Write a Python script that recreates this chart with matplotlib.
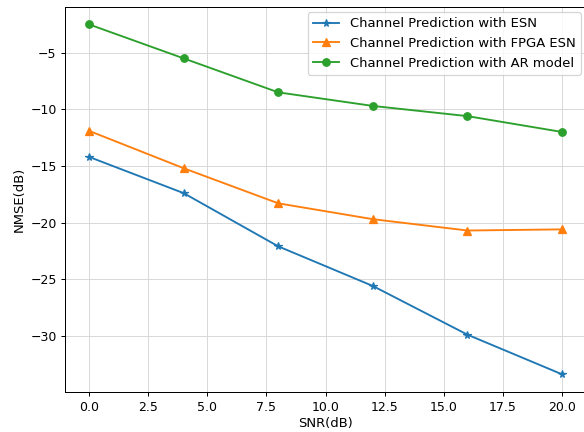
import matplotlib
matplotlib.use("Agg")
import matplotlib.pyplot as plt

snr = [0, 4, 8, 12, 16, 20]
nmse_esn = [-14.2, -17.4, -22.1, -25.6, -29.9, -33.4]
nmse_fpga = [-11.9, -15.2, -18.3, -19.7, -20.7, -20.6]
nmse_ar = [-2.5, -5.5, -8.5, -9.7, -10.6, -12.0]

fig, ax = plt.subplots(figsize=(584 / 90, 432 / 90), dpi=90)
ax.plot(snr, nmse_esn, marker="*", label="Channel Prediction with ESN")
ax.plot(snr, nmse_fpga, marker="^", label="Channel Prediction with FPGA ESN")
ax.plot(snr, nmse_ar, marker="o", label="Channel Prediction with AR model")
ax.grid(color="#d9d9d9")
ax.set_xlabel("SNR(dB)", fontsize=10.5, labelpad=3)
ax.set_ylabel("NMSE(dB)", fontsize=10.5)
ax.legend(loc="upper right", fontsize=10.5, borderaxespad=0.4)
fig.subplots_adjust(left=0.112, right=1.003, top=0.984, bottom=0.093)
fig.savefig("out.png", dpi=90)
